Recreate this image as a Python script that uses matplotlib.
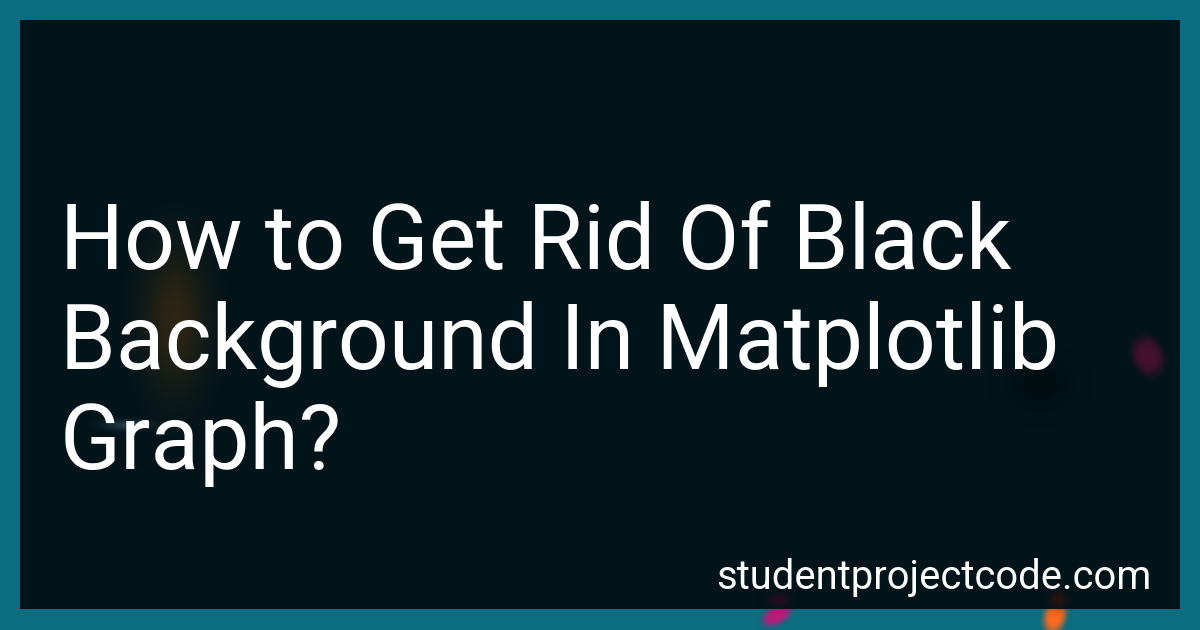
import matplotlib.pyplot as plt
import numpy as np
from matplotlib.colors import to_rgb
from matplotlib.patches import Rectangle

# text content
title_lines = ["How to Get Rid Of Black", "Background In Matplotlib", "Graph?"]
site_name = "studentprojectcode.com"

W, H = 1200, 630
border_color = "#0a6d80"
panel_color = "#01141a"


def glow(ax, cx, cy, rx, ry, color, alpha, angle=0.0, power=1.0, zorder=2):
    """Soft spot drawn as an RGBA image (power > 1 gives flatter edges)."""
    size = int(max(rx, ry) * 3)
    yy, xx = np.mgrid[-size:size + 1, -size:size + 1].astype(float)
    t = np.deg2rad(angle)
    u = xx * np.cos(t) + yy * np.sin(t)
    v = -xx * np.sin(t) + yy * np.cos(t)
    a = np.exp(-(((u / rx) ** 2 + (v / ry) ** 2) ** power)) * alpha
    img = np.zeros(a.shape + (4,))
    img[..., :3] = to_rgb(color)
    img[..., 3] = a
    ax.imshow(img, extent=(cx - size, cx + size, cy + size, cy - size),
              interpolation="bilinear", zorder=zorder)


fig = plt.figure(figsize=(12, 6.3), dpi=100, facecolor=border_color)
ax = fig.add_axes([0, 0, 1, 1])
ax.set_xlim(0, W)
ax.set_ylim(H, 0)
ax.axis("off")

# blobs that sit mostly on the teal border
glow(ax, 777, 615, 16, 9, "#c8147a", 0.95, angle=-30, power=2, zorder=1)
glow(ax, 1055, 616, 11, 18, "#ff6a1e", 1.0, angle=15, power=2, zorder=1)

# dark panel
ax.add_patch(Rectangle((20, 20), 1160, 589, facecolor=panel_color,
                       edgecolor="none", zorder=1.5))

# faint glows inside the panel
glow(ax, 175, 320, 32, 70, "#3a2a12", 0.8)
glow(ax, 128, 425, 22, 5, "#6a8a9a", 0.35)
glow(ax, 1148, 356, 15, 20, "#4e1030", 0.9, angle=-20, power=2)
glow(ax, 1040, 385, 25, 20, "#000000", 0.4)
glow(ax, 779, 600, 10, 7, "#3a0a22", 0.7)
glow(ax, 1058, 600, 9, 9, "#3a140a", 0.7)

for i, line in enumerate(title_lines):
    ax.text(60, 269 + i * 100, line, fontsize=64.5, family="Roboto",
            color="white", ha="left", va="baseline", zorder=3)

ax.text(1151, 589, site_name, fontsize=28.8, family="Roboto",
        color="white", ha="right", va="baseline", zorder=3)

fig.savefig("out.png", dpi=100, facecolor=border_color)
